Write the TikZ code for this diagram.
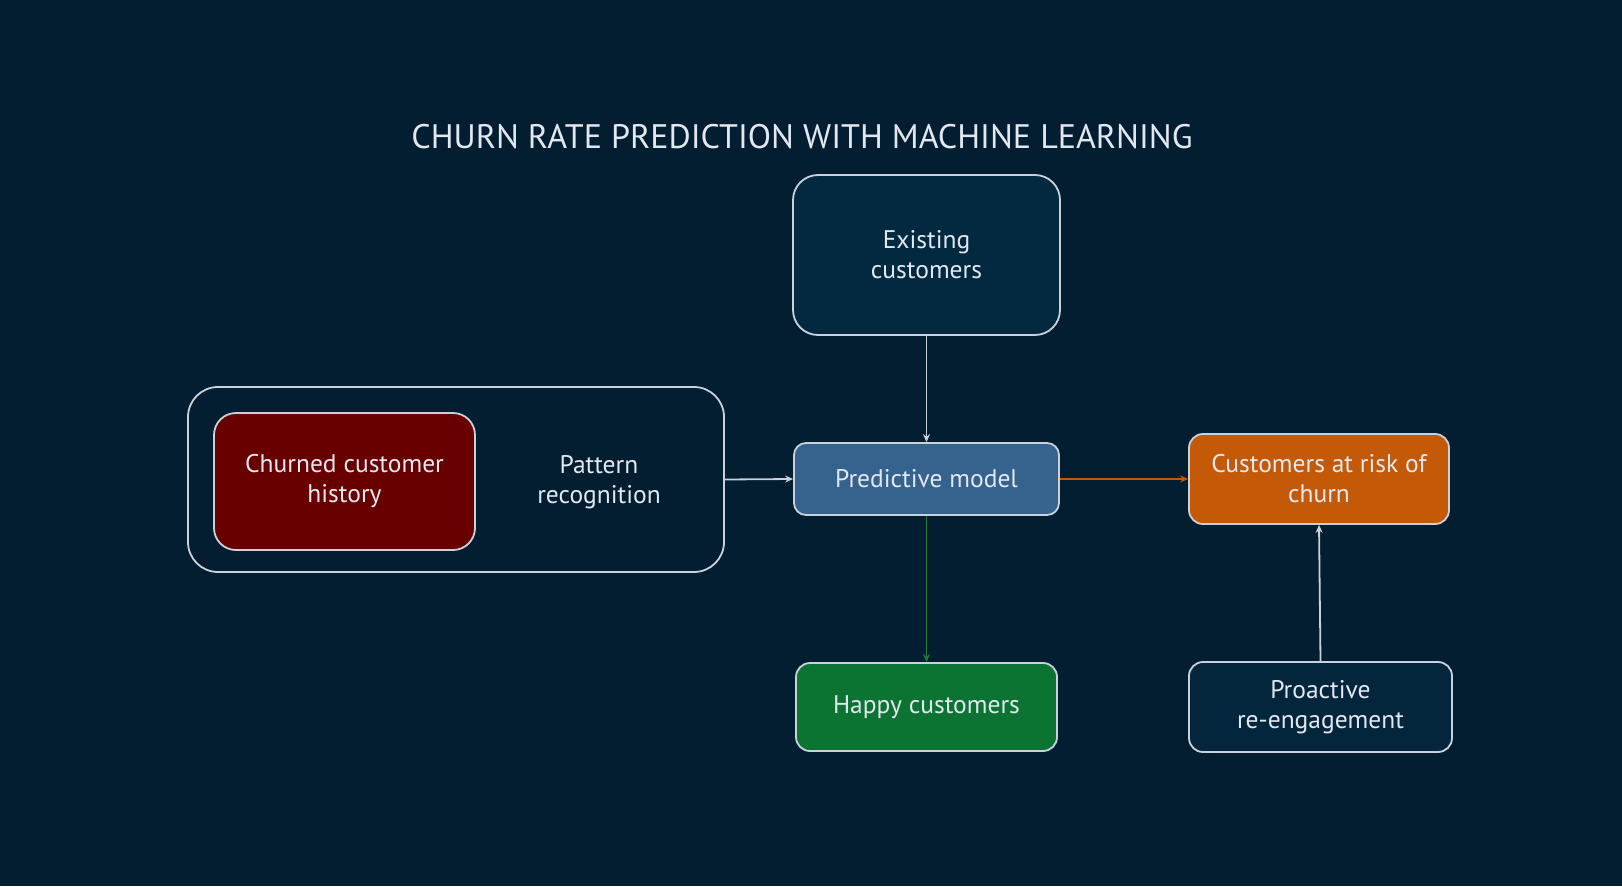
\documentclass[tikz,border=0pt]{standalone}
\usepackage{fontspec}
\setmainfont{PT Sans}
\usetikzlibrary{arrows.meta}
\definecolor{bg}{HTML}{021E30}
\definecolor{txt}{HTML}{E2E8EF}
\definecolor{edge}{HTML}{C9D1DB}
\definecolor{navy}{HTML}{02293F}
\definecolor{navytwo}{HTML}{03263D}
\definecolor{churnred}{HTML}{690000}
\definecolor{predblue}{HTML}{36628E}
\definecolor{riskorange}{HTML}{C45A07}
\definecolor{happygreen}{HTML}{0B7432}
\definecolor{greenline}{HTML}{1B7A35}
\tikzset{
  lbl/.style={text=txt, align=center, font=\fontsize{25.5}{30}\selectfont},
  box/.style={lbl, draw=edge, line width=1.8pt, inner sep=0pt},
  conn/.style={line width=1.8pt, -{Stealth[length=8pt,width=7pt]}},
}
\begin{document}
\begin{tikzpicture}[x=1pt,y=-1pt]
\fill[bg] (0,0) rectangle (1622,886);
\useasboundingbox (0,0) rectangle (1622,886);
\node[text=txt, font=\fontsize{34}{40}\selectfont] (title) at (802,137) {CHURN RATE PREDICTION WITH MACHINE LEARNING};
\node[box, fill=navy, rounded corners=25pt, minimum width=267pt, minimum height=160pt] (exist) at (926.5,255) {Existing\\customers};
\node[box, fill=bg, rounded corners=30pt, minimum width=536pt, minimum height=185pt] (group) at (456,479.5) {};
\node[box, fill=churnred, rounded corners=22pt, minimum width=261pt, minimum height=137pt] (churned) at (344.5,481.5) {Churned customer\\history};
\node[lbl] (pattern) at (599,482) {Pattern\\recognition};
\node[box, fill=predblue, rounded corners=12pt, minimum width=265pt, minimum height=72pt] (pred) at (926.5,479) {Predictive model};
\node[box, fill=riskorange, rounded corners=14pt, minimum width=260pt, minimum height=90pt] (risk) at (1319,479) {Customers at risk of\\churn};
\node[box, fill=happygreen, rounded corners=14pt, minimum width=261pt, minimum height=88pt] (happy) at (926.5,707) {Happy customers};
\node[box, fill=navytwo, rounded corners=14pt, minimum width=263pt, minimum height=90pt] (proact) at (1320.5,707) {Proactive\\re-engagement};
\draw[conn, draw=edge] (group.east) -- (pred.west);
\draw[conn, draw=edge] (exist.south) -- (pred.north);
\draw[conn, draw=riskorange] (pred.east) -- (risk.west);
\draw[conn, draw=greenline] (pred.south) -- (happy.north);
\draw[conn, draw=edge] (proact.north) -- (risk.south);
\end{tikzpicture}
\end{document}
